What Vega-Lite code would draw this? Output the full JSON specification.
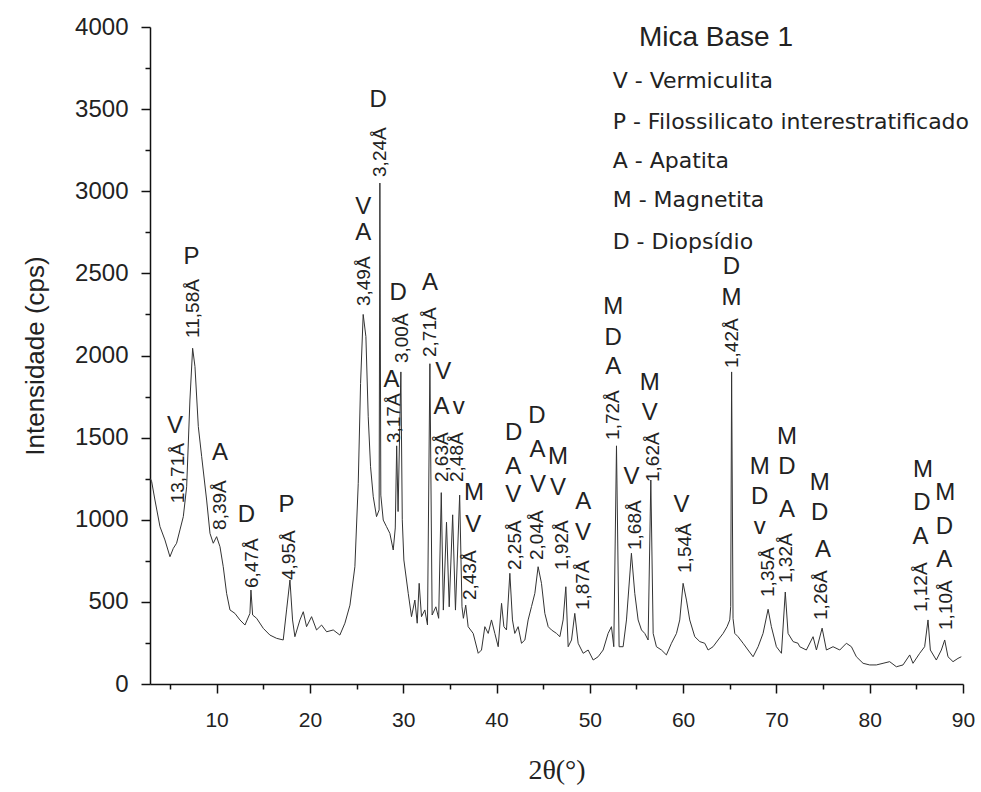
{
  "$schema": "https://vega.github.io/schema/vega-lite/v6.json",
  "width": 813,
  "height": 657,
  "autosize": {"type": "none"},
  "padding": {"left": 150, "top": 27, "right": 18, "bottom": 108},
  "background": "white",
  "config": {"view": {"stroke": null}, "axis": {"grid": false}},
  "datasets": {
    "xrd": [
      {"t": 2.9, "i": 1250}, {"t": 3.04, "i": 1232}, {"t": 3.39, "i": 1120}, {"t": 3.93, "i": 958}, {"t": 4.46, "i": 877},
      {"t": 5.0, "i": 775}, {"t": 5.36, "i": 826}, {"t": 5.71, "i": 857}, {"t": 6.07, "i": 938}, {"t": 6.43, "i": 1019},
      {"t": 6.79, "i": 1201}, {"t": 7.14, "i": 1729}, {"t": 7.43, "i": 2044}, {"t": 7.68, "i": 1932}, {"t": 8.04, "i": 1567},
      {"t": 8.4, "i": 1384}, {"t": 8.93, "i": 1120}, {"t": 9.29, "i": 917}, {"t": 9.64, "i": 857}, {"t": 10.0, "i": 897},
      {"t": 10.36, "i": 836}, {"t": 10.71, "i": 714}, {"t": 11.07, "i": 552}, {"t": 11.43, "i": 451}, {"t": 11.96, "i": 430},
      {"t": 12.5, "i": 390}, {"t": 13.04, "i": 359}, {"t": 13.57, "i": 430}, {"t": 13.68, "i": 572}, {"t": 13.86, "i": 420},
      {"t": 14.29, "i": 400}, {"t": 15.0, "i": 339}, {"t": 15.71, "i": 298}, {"t": 16.43, "i": 278}, {"t": 17.14, "i": 268},
      {"t": 17.5, "i": 451}, {"t": 17.86, "i": 633}, {"t": 18.14, "i": 390}, {"t": 18.39, "i": 288}, {"t": 18.93, "i": 390},
      {"t": 19.29, "i": 440}, {"t": 19.64, "i": 349}, {"t": 20.18, "i": 410}, {"t": 20.71, "i": 329}, {"t": 21.25, "i": 359},
      {"t": 21.79, "i": 318}, {"t": 22.5, "i": 329}, {"t": 23.21, "i": 298}, {"t": 23.75, "i": 370}, {"t": 24.29, "i": 480},
      {"t": 24.82, "i": 714}, {"t": 25.18, "i": 1222}, {"t": 25.43, "i": 1830}, {"t": 25.71, "i": 2250}, {"t": 26.0, "i": 2115},
      {"t": 26.25, "i": 1627}, {"t": 26.5, "i": 1323}, {"t": 26.79, "i": 1140}, {"t": 27.14, "i": 1019}, {"t": 27.42, "i": 1060},
      {"t": 27.5, "i": 3050}, {"t": 27.6, "i": 1150}, {"t": 27.86, "i": 998}, {"t": 28.21, "i": 958}, {"t": 28.57, "i": 917},
      {"t": 28.93, "i": 816}, {"t": 29.15, "i": 950}, {"t": 29.3, "i": 1450}, {"t": 29.45, "i": 1050}, {"t": 29.75, "i": 1900},
      {"t": 29.9, "i": 1000}, {"t": 30.07, "i": 755}, {"t": 30.54, "i": 552}, {"t": 30.89, "i": 410}, {"t": 31.25, "i": 511},
      {"t": 31.5, "i": 370}, {"t": 31.71, "i": 613}, {"t": 31.96, "i": 410}, {"t": 32.32, "i": 451}, {"t": 32.6, "i": 360},
      {"t": 32.86, "i": 1950}, {"t": 33.1, "i": 420}, {"t": 33.5, "i": 470}, {"t": 33.8, "i": 400}, {"t": 34.08, "i": 1165},
      {"t": 34.3, "i": 450}, {"t": 34.64, "i": 985}, {"t": 34.93, "i": 470}, {"t": 35.3, "i": 1030}, {"t": 35.6, "i": 450},
      {"t": 36.05, "i": 1150}, {"t": 36.3, "i": 470}, {"t": 36.45, "i": 400}, {"t": 36.7, "i": 480}, {"t": 36.96, "i": 349},
      {"t": 37.5, "i": 308}, {"t": 38.04, "i": 187}, {"t": 38.39, "i": 207}, {"t": 38.75, "i": 349}, {"t": 39.11, "i": 308},
      {"t": 39.46, "i": 390}, {"t": 39.82, "i": 308}, {"t": 40.18, "i": 227}, {"t": 40.54, "i": 491}, {"t": 40.79, "i": 349},
      {"t": 41.07, "i": 329}, {"t": 41.43, "i": 674}, {"t": 41.71, "i": 390}, {"t": 41.96, "i": 308}, {"t": 42.32, "i": 349},
      {"t": 42.68, "i": 248}, {"t": 43.04, "i": 268}, {"t": 43.39, "i": 390}, {"t": 43.75, "i": 471}, {"t": 44.11, "i": 552},
      {"t": 44.46, "i": 714}, {"t": 44.82, "i": 613}, {"t": 45.18, "i": 430}, {"t": 45.54, "i": 349}, {"t": 45.89, "i": 329},
      {"t": 46.43, "i": 308}, {"t": 46.79, "i": 288}, {"t": 47.14, "i": 390}, {"t": 47.43, "i": 592}, {"t": 47.68, "i": 227},
      {"t": 48.04, "i": 268}, {"t": 48.39, "i": 430}, {"t": 48.75, "i": 248}, {"t": 49.29, "i": 187}, {"t": 49.82, "i": 207},
      {"t": 50.36, "i": 146}, {"t": 50.89, "i": 166}, {"t": 51.43, "i": 207}, {"t": 51.96, "i": 308}, {"t": 52.32, "i": 349},
      {"t": 52.57, "i": 227}, {"t": 52.86, "i": 1450}, {"t": 53.14, "i": 227}, {"t": 53.57, "i": 227}, {"t": 53.93, "i": 390},
      {"t": 54.46, "i": 796}, {"t": 54.82, "i": 552}, {"t": 55.18, "i": 390}, {"t": 55.54, "i": 329}, {"t": 55.89, "i": 308},
      {"t": 56.25, "i": 268}, {"t": 56.54, "i": 1242}, {"t": 56.79, "i": 308}, {"t": 57.14, "i": 227}, {"t": 57.68, "i": 207},
      {"t": 58.21, "i": 177}, {"t": 58.75, "i": 248}, {"t": 59.29, "i": 308}, {"t": 59.64, "i": 390}, {"t": 60.0, "i": 613},
      {"t": 60.36, "i": 511}, {"t": 60.71, "i": 390}, {"t": 61.25, "i": 288}, {"t": 61.79, "i": 258}, {"t": 62.32, "i": 248},
      {"t": 62.68, "i": 207}, {"t": 63.21, "i": 227}, {"t": 63.75, "i": 268}, {"t": 64.29, "i": 308}, {"t": 64.71, "i": 349},
      {"t": 65.0, "i": 390}, {"t": 65.1, "i": 471}, {"t": 65.2, "i": 1900}, {"t": 65.35, "i": 400}, {"t": 65.54, "i": 308},
      {"t": 65.89, "i": 288}, {"t": 66.43, "i": 248}, {"t": 66.96, "i": 207}, {"t": 67.5, "i": 166}, {"t": 68.04, "i": 227},
      {"t": 68.57, "i": 308}, {"t": 69.11, "i": 455}, {"t": 69.46, "i": 349}, {"t": 70.0, "i": 227}, {"t": 70.54, "i": 187},
      {"t": 70.95, "i": 560}, {"t": 71.25, "i": 308}, {"t": 71.79, "i": 258}, {"t": 72.32, "i": 248}, {"t": 72.5, "i": 227},
      {"t": 73.21, "i": 207}, {"t": 73.93, "i": 288}, {"t": 74.29, "i": 207}, {"t": 74.9, "i": 340}, {"t": 75.36, "i": 207},
      {"t": 76.07, "i": 227}, {"t": 76.79, "i": 207}, {"t": 77.5, "i": 248}, {"t": 78.04, "i": 227}, {"t": 78.57, "i": 166},
      {"t": 79.29, "i": 126}, {"t": 80.0, "i": 116}, {"t": 80.71, "i": 116}, {"t": 81.43, "i": 126}, {"t": 82.14, "i": 136},
      {"t": 82.86, "i": 105}, {"t": 83.57, "i": 116}, {"t": 84.29, "i": 177}, {"t": 84.64, "i": 126}, {"t": 85.36, "i": 187},
      {"t": 85.89, "i": 227}, {"t": 86.25, "i": 390}, {"t": 86.5, "i": 207}, {"t": 87.14, "i": 146}, {"t": 87.68, "i": 207},
      {"t": 88.04, "i": 268}, {"t": 88.39, "i": 166}, {"t": 88.93, "i": 136}, {"t": 89.46, "i": 156}, {"t": 89.82, "i": 166}
    ],
    "dlabels": [
      {"t": 5.86, "i": 1100, "label": "13,71Å"}, {"t": 7.46, "i": 2107, "label": "11,58Å"},
      {"t": 10.36, "i": 938, "label": "8,39Å"}, {"t": 13.75, "i": 584, "label": "6,47Å"},
      {"t": 17.75, "i": 633, "label": "4,95Å"}, {"t": 25.79, "i": 2301, "label": "3,49Å"},
      {"t": 27.5, "i": 3087, "label": "3,24Å"}, {"t": 29.0, "i": 1467, "label": "3,17Å"},
      {"t": 29.86, "i": 1954, "label": "3,00Å"}, {"t": 32.86, "i": 1991, "label": "2,71Å"},
      {"t": 34.14, "i": 1230, "label": "2,63Å"}, {"t": 35.75, "i": 1230, "label": "2,48Å"},
      {"t": 37.14, "i": 511, "label": "2,43Å"}, {"t": 41.96, "i": 694, "label": "2,25Å"},
      {"t": 44.32, "i": 755, "label": "2,04Å"}, {"t": 47.0, "i": 694, "label": "1,92Å"},
      {"t": 49.25, "i": 450, "label": "1,87Å"}, {"t": 52.46, "i": 1486, "label": "1,72Å"},
      {"t": 54.82, "i": 816, "label": "1,68Å"}, {"t": 56.79, "i": 1230, "label": "1,62Å"},
      {"t": 60.18, "i": 676, "label": "1,54Å"}, {"t": 65.21, "i": 1924, "label": "1,42Å"},
      {"t": 69.11, "i": 530, "label": "1,35Å"}, {"t": 71.0, "i": 615, "label": "1,32Å"},
      {"t": 74.75, "i": 390, "label": "1,26Å"}, {"t": 85.46, "i": 438, "label": "1,12Å"},
      {"t": 88.14, "i": 329, "label": "1,10Å"}
    ],
    "letters": [
      {"t": 5.54, "i": 1570, "label": "V"}, {"t": 7.32, "i": 2602, "label": "P"},
      {"t": 10.36, "i": 1404, "label": "A"}, {"t": 13.2, "i": 1029, "label": "D"},
      {"t": 17.5, "i": 1090, "label": "P"},
      {"t": 25.71, "i": 2906, "label": "V"}, {"t": 25.71, "i": 2744, "label": "A"},
      {"t": 27.32, "i": 3556, "label": "D"},
      {"t": 28.75, "i": 1851, "label": "A"}, {"t": 29.46, "i": 2379, "label": "D"},
      {"t": 32.86, "i": 2440, "label": "A"},
      {"t": 34.28, "i": 1901, "label": "V"}, {"t": 34.1, "i": 1688, "label": "A"},
      {"t": 35.96, "i": 1688, "label": "v"},
      {"t": 37.6, "i": 1161, "label": "M"}, {"t": 37.5, "i": 968, "label": "V"},
      {"t": 41.85, "i": 1526, "label": "D"}, {"t": 41.8, "i": 1323, "label": "A"}, {"t": 41.8, "i": 1151, "label": "V"},
      {"t": 44.32, "i": 1632, "label": "D"}, {"t": 44.4, "i": 1425, "label": "A"}, {"t": 44.46, "i": 1212, "label": "V"},
      {"t": 46.6, "i": 1384, "label": "M"}, {"t": 46.6, "i": 1192, "label": "V"},
      {"t": 49.29, "i": 1110, "label": "A"}, {"t": 49.27, "i": 917, "label": "V"},
      {"t": 52.5, "i": 2297, "label": "M"}, {"t": 52.5, "i": 2105, "label": "D"}, {"t": 52.5, "i": 1932, "label": "A"},
      {"t": 54.47, "i": 1262, "label": "V"},
      {"t": 56.43, "i": 1830, "label": "M"}, {"t": 56.43, "i": 1648, "label": "V"},
      {"t": 59.83, "i": 1090, "label": "V"},
      {"t": 65.18, "i": 2541, "label": "D"}, {"t": 65.18, "i": 2348, "label": "M"},
      {"t": 68.21, "i": 1323, "label": "M"}, {"t": 68.21, "i": 1140, "label": "D"}, {"t": 68.21, "i": 958, "label": "v"},
      {"t": 71.14, "i": 1506, "label": "M"}, {"t": 71.14, "i": 1323, "label": "D"}, {"t": 71.14, "i": 1059, "label": "A"},
      {"t": 74.64, "i": 1222, "label": "M"}, {"t": 74.64, "i": 1039, "label": "D"}, {"t": 75.0, "i": 816, "label": "A"},
      {"t": 85.7, "i": 1303, "label": "M"}, {"t": 85.6, "i": 1100, "label": "D"}, {"t": 85.45, "i": 897, "label": "A"},
      {"t": 88.1, "i": 1161, "label": "M"}, {"t": 88.0, "i": 958, "label": "D"}, {"t": 88.0, "i": 755, "label": "A"}
    ],
    "legendTitle": [{"t": 55.27, "i": 3930, "label": "Mica Base 1"}],
    "legend": [
      {"t": 52.45, "i": 3671, "label": "V - Vermiculita"},
      {"t": 52.45, "i": 3419, "label": "P - Filossilicato interestratificado"},
      {"t": 52.45, "i": 3185, "label": "A - Apatita"},
      {"t": 52.45, "i": 2947, "label": "M - Magnetita"},
      {"t": 52.45, "i": 2693, "label": "D - Diopsídio"}
    ]
  },
  "layer": [
    {
      "data": {"name": "xrd"},
      "mark": {"type": "line", "color": "#333333", "strokeWidth": 1, "interpolate": "linear"},
      "encoding": {
        "x": {
          "field": "t", "type": "quantitative",
          "scale": {"domain": [2.86, 90], "nice": false, "zero": false},
          "axis": {
            "orient": "bottom", "values": [5, 10, 15, 20, 25, 30, 35, 40, 45, 50, 55, 60, 65, 70, 75, 80, 85, 90],
            "tickSize": {"condition": {"test": "datum.value % 10 === 0", "value": 9}, "value": 5},
            "labelExpr": "datum.value % 10 === 0 ? datum.label : ''",
            "tickWidth": 1.5, "tickColor": "#111", "domainColor": "#111", "domainWidth": 1.5,
            "labelFont": "Liberation Sans", "labelFontSize": 21, "labelColor": "#222", "labelPadding": 16,
            "labelFlush": false, "labelOverlap": false,
            "title": "2θ(°)", "titleFont": "Liberation Serif", "titleFontSize": 28, "titleFontWeight": "normal",
            "titleColor": "#222", "titlePadding": 26
          }
        },
        "y": {
          "field": "i", "type": "quantitative",
          "scale": {"domain": [0, 4000], "nice": false},
          "axis": {
            "orient": "left", "values": [0, 250, 500, 750, 1000, 1250, 1500, 1750, 2000, 2250, 2500, 2750, 3000, 3250, 3500, 3750, 4000],
            "tickSize": {"condition": {"test": "datum.value % 500 === 0", "value": 9}, "value": 5},
            "labelExpr": "datum.value % 500 === 0 ? format(datum.value, 'd') : ''",
            "tickWidth": 1.5, "tickColor": "#111", "domainColor": "#111", "domainWidth": 1.5,
            "labelFont": "Liberation Sans", "labelFontSize": 24, "labelColor": "#222", "labelPadding": 13,
            "labelFlush": false, "labelOverlap": false,
            "title": "Intensidade (cps)", "titleFont": "Liberation Sans", "titleFontSize": 26, "titleFontWeight": "normal",
            "titleColor": "#222", "titlePadding": 26
          }
        }
      }
    },
    {
      "data": {"name": "dlabels"},
      "mark": {"type": "text", "angle": 270, "align": "left", "baseline": "middle", "font": "Liberation Sans", "fontSize": 19, "color": "#222"},
      "encoding": {
        "x": {"field": "t", "type": "quantitative"},
        "y": {"field": "i", "type": "quantitative"},
        "text": {"field": "label"}
      }
    },
    {
      "data": {"name": "letters"},
      "mark": {"type": "text", "align": "center", "baseline": "middle", "font": "Liberation Sans", "fontSize": 24, "color": "#222"},
      "encoding": {
        "x": {"field": "t", "type": "quantitative"},
        "y": {"field": "i", "type": "quantitative"},
        "text": {"field": "label"}
      }
    },
    {
      "data": {"name": "legendTitle"},
      "mark": {"type": "text", "align": "left", "baseline": "middle", "font": "Liberation Sans", "fontSize": 28, "color": "#222"},
      "encoding": {
        "x": {"field": "t", "type": "quantitative"},
        "y": {"field": "i", "type": "quantitative"},
        "text": {"field": "label"}
      }
    },
    {
      "data": {"name": "legend"},
      "mark": {"type": "text", "align": "left", "baseline": "middle", "font": "DejaVu Sans", "fontSize": 22, "color": "#222"},
      "encoding": {
        "x": {"field": "t", "type": "quantitative"},
        "y": {"field": "i", "type": "quantitative"},
        "text": {"field": "label"}
      }
    }
  ]
}
